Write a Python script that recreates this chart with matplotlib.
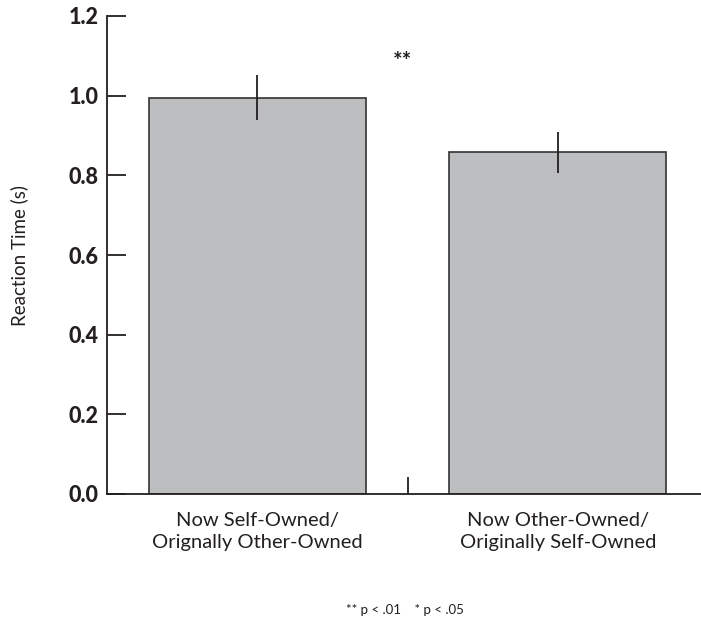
import numpy as np
import matplotlib.pyplot as plt

# mean reaction times and error bars for the two ownership conditions
conditions = ['Now Self-Owned/\nOrignally Other-Owned',
              'Now Other-Owned/\nOriginally Self-Owned']
rt_mean = [0.995, 0.858]
rt_err = [0.057, 0.052]
yticks = [0.0, 0.2, 0.4, 0.6, 0.8, 1.0, 1.2]

plt.rcParams['font.family'] = ['Lato', 'DejaVu Sans']
ink = '#231f20'

fig = plt.figure(figsize=(7.01, 6.28), dpi=100)
ax = fig.add_axes([107/701, 134/628, 594/701, 478/628])

x = np.arange(len(conditions))
ax.bar(x, rt_mean, width=0.722, color='#bdbec0', edgecolor='#333333', linewidth=1.2, zorder=2)
ax.errorbar(x, rt_mean, yerr=rt_err, fmt='none', ecolor=ink, elinewidth=1.3, capsize=0, zorder=3)

ax.set_xlim(-0.5, 1.476)
ax.set_ylim(0, 1.2)

for s in ['top', 'right']:
    ax.spines[s].set_visible(False)
for s in ['left', 'bottom']:
    ax.spines[s].set_color(ink)
    ax.spines[s].set_linewidth(1.3)

ax.set_yticks(yticks)
ax.set_yticklabels([f'{v:.1f}' for v in yticks], fontsize=15.5, fontweight='black', color=ink)
ax.tick_params(axis='y', direction='in', length=14, width=1.3, color=ink, pad=6)

# single tick between the bars; category names placed as text
ax.set_xticks([0.5])
ax.set_xticklabels([''])
ax.tick_params(axis='x', direction='in', length=12, width=1.3, color=ink)
for xi, name in zip(x, conditions):
    ax.text(xi, -0.046, name, ha='center', va='top', fontsize=14.5, color=ink,
            linespacing=1.35, transform=ax.transData, clip_on=False)

ax.set_ylabel('Reaction Time (s)', fontsize=13.5, color=ink, labelpad=29)

ax.text(0.482, 1.085, '**', ha='center', va='center', fontsize=16, fontweight='bold', color=ink)
fig.text(405/701, 1 - 610/628, '** p < .01    * p < .05', ha='center', va='center',
         fontsize=9.5, color=ink)

fig.savefig('out.png', dpi=100)
